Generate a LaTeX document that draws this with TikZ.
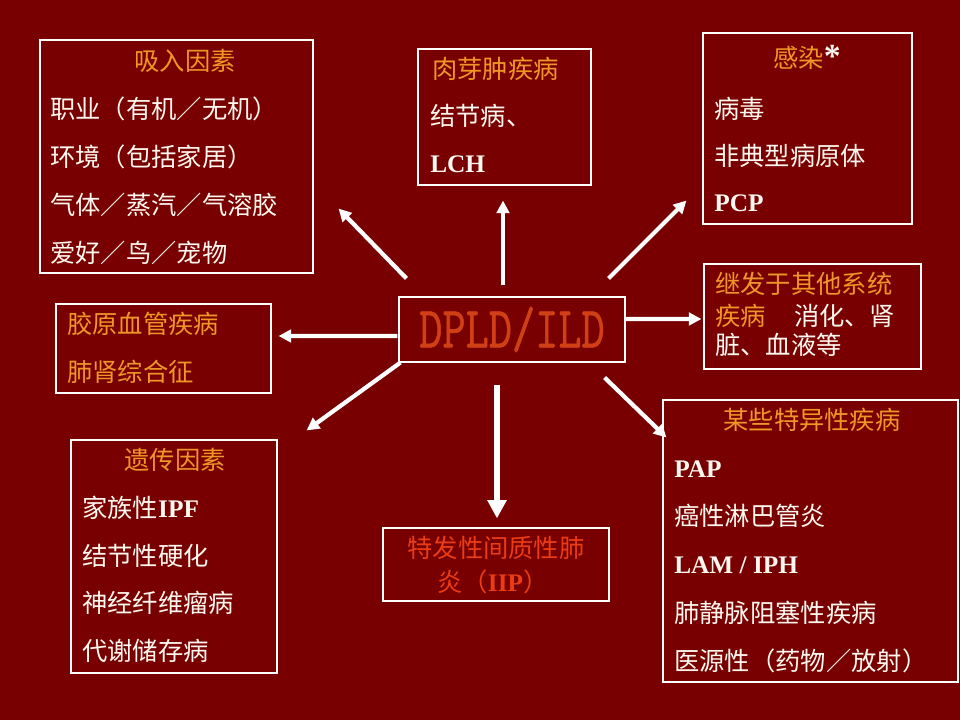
\documentclass[tikz,border=0pt]{standalone}
\usepackage{fontspec}
\setmainfont{Liberation Serif}
\newfontfamily\cjk{Noto Sans CJK SC}
\newfontfamily\dpldfont[FakeBold=1.2]{Latin Modern Mono}
\usetikzlibrary{arrows.meta, fit}
\definecolor{bgred}{RGB}{120,0,0}
\definecolor{titleor}{RGB}{240,150,40}
\definecolor{txtwh}{RGB}{255,248,240}
\definecolor{iipred}{RGB}{235,60,20}
\definecolor{dpld}{RGB}{208,64,20}
\newcommand{\lat}[1]{{\normalfont\bfseries #1}}

\begin{document}
\begin{tikzpicture}[x=0.025cm, y=-0.025cm,
    box/.style={draw=white, line width=0.8pt, inner sep=0pt},
    txt/.style={inner sep=0pt, anchor=base west, text=txtwh, font=\cjk\fontsize{18}{18}\selectfont},
    ttl/.style={txt, anchor=base, text=titleor},
    arr/.style={draw=white, line width=3pt, -{Triangle[length=9pt, width=9pt]}}]
    \fill[bgred] (0,0) rectangle (960,720);

    \node[box, fit={(399,297) (625,362)}] (c) {};
    \node[inner sep=0pt, text=dpld] (ctxt) at (c.center) {\scalebox{1}[1.3]{\fontsize{32}{32}\selectfont\dpldfont DPLD/ILD}};

    \node[box, fit={(40,40) (313,273)}]   (inh) {};
    \node[box, fit={(418,49) (591,185)}]  (gra) {};
    \node[box, fit={(703,33) (912,224)}]  (inf) {};
    \node[box, fit={(704,264) (921,369)}] (sec) {};
    \node[box, fit={(663,400) (958,682)}] (spe) {};
    \node[box, fit={(383,528) (609,601)}] (iip) {};
    \node[box, fit={(71,440) (277,673)}]  (gen) {};
    \node[box, fit={(56,304) (271,393)}]  (col) {};

    \node[ttl] (inh-0) at (185,71) {吸入因素};
    \foreach \t [count=\i] in {职业（有机／无机）, 环境（包括家居）, 气体／蒸汽／气溶胶, 爱好／鸟／宠物}
        \node[txt] (inh-\i) at (50,{71+48*\i}) {\t};

    \node[txt, text=titleor] (gra-0) at (432,79) {肉芽肿疾病};
    \node[txt] (gra-1) at (430,126) {结节病、};
    \node[txt] (gra-2) at (430,173) {\lat{LCH}};

    \node[ttl] (inf-0) at (807,68) {感染\textcolor{txtwh}{\lat{\fontsize{24}{24}\selectfont *}}};
    \node[txt] (inf-1) at (714,119) {病毒};
    \node[txt] (inf-2) at (714,166) {非典型病原体};
    \node[txt] (inf-3) at (714,212) {\lat{PCP}};

    \node[txt, text=titleor] (sec-1) at (715,294) {继发于其他系统};
    \node[txt] (sec-2) at (715,326) {\textcolor{titleor}{疾病}\hspace{20pt}消化、肾};
    \node[txt] (sec-3) at (715,355) {脏、血液等};

    \node[ttl] (spe-0) at (812,430) {某些特异性疾病};
    \foreach \t [count=\i] in {\lat{PAP}, 癌性淋巴管炎, \lat{LAM / IPH}, 肺静脉阻塞性疾病, 医源性（药物／放射）}
        \node[txt] (spe-\i) at (674,{430+48*\i}) {\t};

    \node[ttl, text=iipred] (iip-1) at (496,558) {特发性间质性肺};
    \node[txt, text=iipred] (iip-2) at (437,591) {炎（\lat{IIP}）};

    \node[ttl] (gen-0) at (175,470) {遗传因素};
    \foreach \t [count=\i] in {家族性\lat{IPF}, 结节性硬化, 神经纤维瘤病, 代谢储存病}
        \node[txt] (gen-\i) at (82,{470+47.5*\i}) {\t};

    \node[txt, text=titleor] (col-1) at (67,334) {胶原血管疾病};
    \node[txt, text=titleor] (col-2) at (67,382) {肺肾综合征};

    \draw[arr] ([shift={(8,-18)}]c.north west) -- ([shift={(25,-65)}]inh.south east);
    \draw[arr] ([shift={(-1,6.5)}]c.west) -- ([shift={(7,-12.5)}]col.east);
    \draw[arr] ([shift={(2,0)}]c.south west) -- ([shift={(29,-9)}]gen.north east);
    \draw[arr] ([shift={(-9,-11)}]c.north) -- ([shift={(-1.5,15)}]gra.south);
    \draw[arr, line width=4pt, -{Triangle[length=13pt, width=13pt]}] ([shift={(-15,22)}]c.south) -- ([shift={(1,-9)}]iip.north);
    \draw[arr] ([shift={(-17,-18)}]c.north east) -- ([shift={(-16,-24)}]inf.south west);
    \draw[arr] ([shift={(0,-10.5)}]c.east) -- ([shift={(-2,2.5)}]sec.west);
    \draw[arr] ([shift={(-21,15)}]c.south east) -- ([shift={(4,38)}]spe.north west);
\end{tikzpicture}
\end{document}
